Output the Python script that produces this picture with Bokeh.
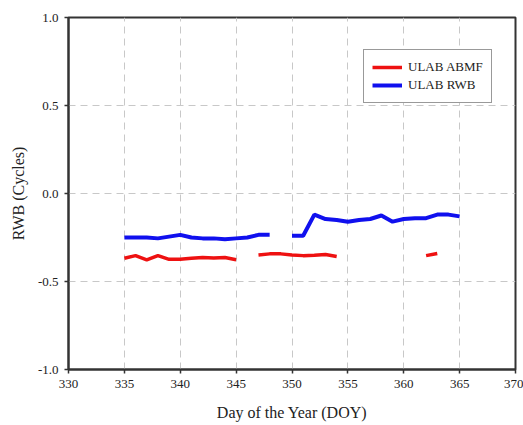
import numpy as np
from bokeh.plotting import figure
from bokeh.models import Range1d, FixedTicker, Legend, LegendItem, ColumnDataSource, CustomJSTickFormatter
from bokeh.embed import file_html
from bokeh.resources import INLINE

nan = float("nan")
days = list(range(335, 366))
# ULAB ABMF (red) - NaN marks missing days
abmf = [-0.368, -0.353, -0.377, -0.353, -0.374, -0.374, -0.368, -0.364, -0.366, -0.364, -0.376,
        nan,
        -0.349, -0.343, -0.343, -0.349, -0.353, -0.351, -0.347, -0.358,
        nan, nan, nan, nan, nan, nan, nan,
        -0.353, -0.341,
        nan, nan]
# ULAB RWB (blue)
rwb = [-0.25, -0.25, -0.25, -0.255, -0.245, -0.235, -0.25, -0.255, -0.255, -0.26, -0.255, -0.25,
       -0.235, -0.235,
       nan,
       -0.24, -0.24, -0.12, -0.145, -0.15, -0.16, -0.15, -0.145, -0.125, -0.16, -0.145, -0.14,
       -0.14, -0.12, -0.12, -0.13]
x_ticks = [330, 335, 340, 345, 350, 355, 360, 365, 370]
y_ticks = [-1.0, -0.5, 0.0, 0.5, 1.0]

FONT = "Liberation Serif"

p = figure(width=523, height=425, output_backend="svg", toolbar_location=None,
           x_range=Range1d(330, 370), y_range=Range1d(-1.0, 1.0),
           min_border_left=68, min_border_right=8, min_border_top=17, min_border_bottom=56)

src = ColumnDataSource(dict(x=days, a=abmf, b=rwb))
r1 = p.line("x", "a", source=src, line_color="#ee1111", line_width=3.5)
r2 = p.line("x", "b", source=src, line_color="#1010ee", line_width=4)

p.xaxis.ticker = FixedTicker(ticks=x_ticks)
p.yaxis.ticker = FixedTicker(ticks=y_ticks)
p.yaxis.formatter = CustomJSTickFormatter(code="return tick.toFixed(1);")

for ax in (p.xaxis[0], p.yaxis[0]):
    ax.major_label_text_font = FONT
    ax.major_label_text_font_size = "13px"
    ax.major_label_text_color = "#222222"
    ax.axis_label_text_font = FONT
    ax.axis_label_text_font_size = "16px"
    ax.axis_label_text_font_style = "normal"
    ax.axis_label_text_color = "#222222"
    ax.axis_line_color = "#333333"
    ax.axis_line_width = 2
    ax.major_tick_line_color = "#333333"
    ax.major_tick_line_width = 1.5
    ax.major_tick_out = 4
    ax.major_tick_in = 0
    ax.minor_tick_line_color = None
    ax.major_label_standoff = 6

p.xaxis.axis_label = "Day of the Year (DOY)"
p.yaxis.axis_label = "RWB (Cycles)"
p.xaxis.axis_label_standoff = 13
p.yaxis.axis_label_standoff = 8

p.xgrid.grid_line_color = "#c8c8c8"
p.ygrid.grid_line_color = "#c8c8c8"
p.xgrid.grid_line_dash = "7 5"
p.ygrid.grid_line_dash = "7 5"
p.xgrid.grid_line_width = 1
p.ygrid.grid_line_width = 1

p.outline_line_color = "#333333"
p.outline_line_width = 2
p.background_fill_color = "white"
p.border_fill_color = "white"

legend = Legend(items=[LegendItem(label="ULAB ABMF", renderers=[r1]),
                       LegendItem(label="ULAB RWB", renderers=[r2])],
                location=(295, 266))
legend.label_text_font = FONT
legend.label_text_font_size = "13px"
legend.label_text_color = "#222222"
legend.border_line_color = "#333333"
legend.border_line_width = 1.5
legend.padding = 8
legend.spacing = 0
legend.margin = 0
legend.label_height = 18
legend.glyph_height = 18
legend.glyph_width = 30
legend.label_standoff = 6
legend.background_fill_alpha = 1
p.add_layout(legend, "center")

open("out.html", "w").write(file_html(p, INLINE))
